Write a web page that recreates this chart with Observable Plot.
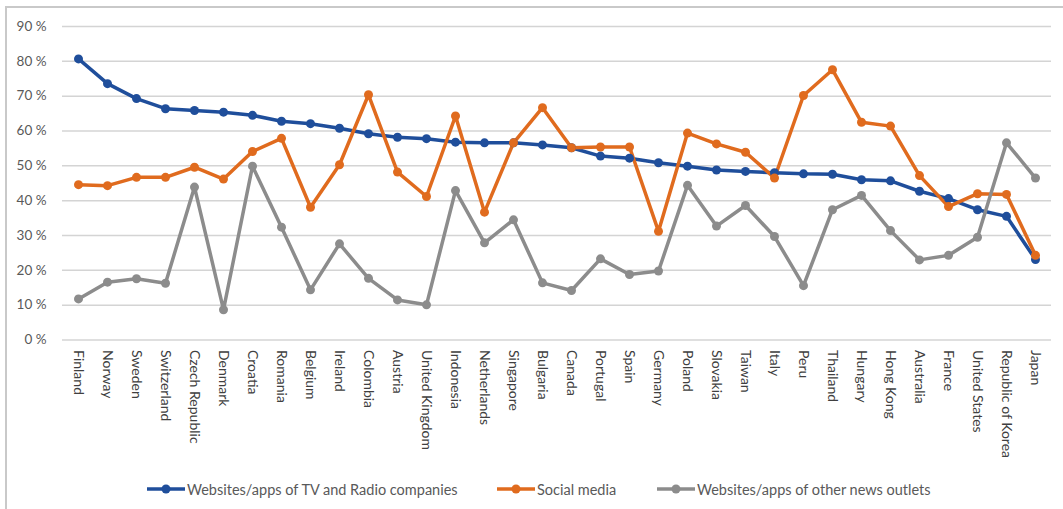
<!DOCTYPE html>
<html>
<head>
<meta charset="utf-8">
<script src="https://cdn.jsdelivr.net/npm/d3@7"></script>
<script src="https://cdn.jsdelivr.net/npm/@observablehq/plot@0.6"></script>
<style>
  html, body { margin: 0; padding: 0; background: #fff; }
  #wrap { position: relative; width: 1063px; height: 509px; overflow: hidden; font-family: Lato, "Open Sans", sans-serif; }
  #frame { position: absolute; left: 5px; top: 6px; width: 1080px; height: 520px; border-left: 2px solid #c9c9c9; border-top: 2px solid #c9c9c9; box-sizing: border-box; z-index: 5; pointer-events: none; }
  #chart { position: absolute; left: 0; top: 0; }
  .leg { position: absolute; top: 479px; display: flex; align-items: center; font-size: 14.5px; color: #595959; white-space: nowrap; }
  .leg svg { margin-right: 2px; }
</style>
</head>
<body>
<div id="wrap">
  <div id="chart"></div>
  <div id="legend"></div>
  <div id="frame"></div>
</div>
<script>
const countries = ["Finland","Norway","Sweden","Switzerland","Czech Republic","Denmark","Croatia","Romania","Belgium","Ireland","Colombia","Austria","United Kingdom","Indonesia","Netherlands","Singapore","Bulgaria","Canada","Portugal","Spain","Germany","Poland","Slovakia","Taiwan","Italy","Peru","Thailand","Hungary","Hong Kong","Australia","France","United States","Republic of Korea","Japan"];

const tvRadio = [80.7,73.6,69.3,66.4,65.9,65.4,64.5,62.8,62.1,60.8,59.2,58.2,57.8,56.8,56.6,56.6,56.0,55.2,52.8,52.2,50.9,49.9,48.8,48.4,48.0,47.7,47.6,46.0,45.7,42.7,40.6,37.4,35.5,23.1];
const socialMedia = [44.6,44.3,46.7,46.7,49.6,46.2,54.1,57.9,38.1,50.3,70.4,48.2,41.2,64.3,36.7,56.6,66.7,55.2,55.4,55.4,31.2,59.4,56.3,53.9,46.5,70.2,77.6,62.5,61.4,47.2,38.3,42.0,41.8,24.3];
const otherNews = [11.8,16.6,17.6,16.3,43.9,8.7,49.9,32.4,14.4,27.6,17.7,11.5,10.1,42.9,27.9,34.5,16.4,14.2,23.3,18.8,19.8,44.4,32.7,38.6,29.7,15.6,37.4,41.5,31.4,23.0,24.3,29.5,56.6,46.5];

const seriesNames = ["Websites/apps of TV and Radio companies","Social media","Websites/apps of other news outlets"];
const seriesColors = ["#1f4e9b","#e06b1e","#8c8c8c"];
const yTicks = [0,10,20,30,40,50,60,70,80,90];

const allSeries = [tvRadio, socialMedia, otherNews];
const data = [];
allSeries.forEach((vals, s) => {
  vals.forEach((v, i) => data.push({country: countries[i], value: v, series: seriesNames[s]}));
});

const chart = Plot.plot({
  width: 1063,
  height: 470,
  marginLeft: 62,
  marginRight: 12,
  marginTop: 26,
  marginBottom: 130.5,
  style: {fontFamily: "Lato, 'Open Sans', sans-serif", color: "#595959", background: "transparent"},
  x: {type: "point", domain: countries, padding: 0.5, label: null},
  y: {domain: [0, 90], label: null},
  color: {domain: seriesNames, range: seriesColors},
  marks: [
    Plot.ruleY(yTicks, {stroke: "#d4d4d4", strokeWidth: 1.5}),
    Plot.axisY(yTicks, {tickSize: 0, tickPadding: 16, tickFormat: d => d + " %", fontSize: 13.5, fill: "#595959", label: null}),
    Plot.axisX({tickSize: 0, tickRotate: 90, tickPadding: 10, textAnchor: "start", fontSize: 14, fill: "#404040", label: null}),
    Plot.line(data, {x: "country", y: "value", z: "series", stroke: "series", strokeWidth: 3.5}),
    Plot.dot(data, {x: "country", y: "value", fill: "series", r: 4.5})
  ]
});
document.getElementById("chart").appendChild(chart);

const legendPos = [147, 497, 657];
const legend = document.getElementById("legend");
seriesNames.forEach((name, i) => {
  const d = document.createElement("div");
  d.className = "leg";
  d.style.left = legendPos[i] + "px";
  d.innerHTML = `<svg width="38" height="20"><line x1="0" y1="10" x2="38" y2="10" stroke="${seriesColors[i]}" stroke-width="3.5"/><circle cx="19" cy="10" r="4.5" fill="${seriesColors[i]}"/></svg><span>${name}</span>`;
  legend.appendChild(d);
});
</script>
</body>
</html>
